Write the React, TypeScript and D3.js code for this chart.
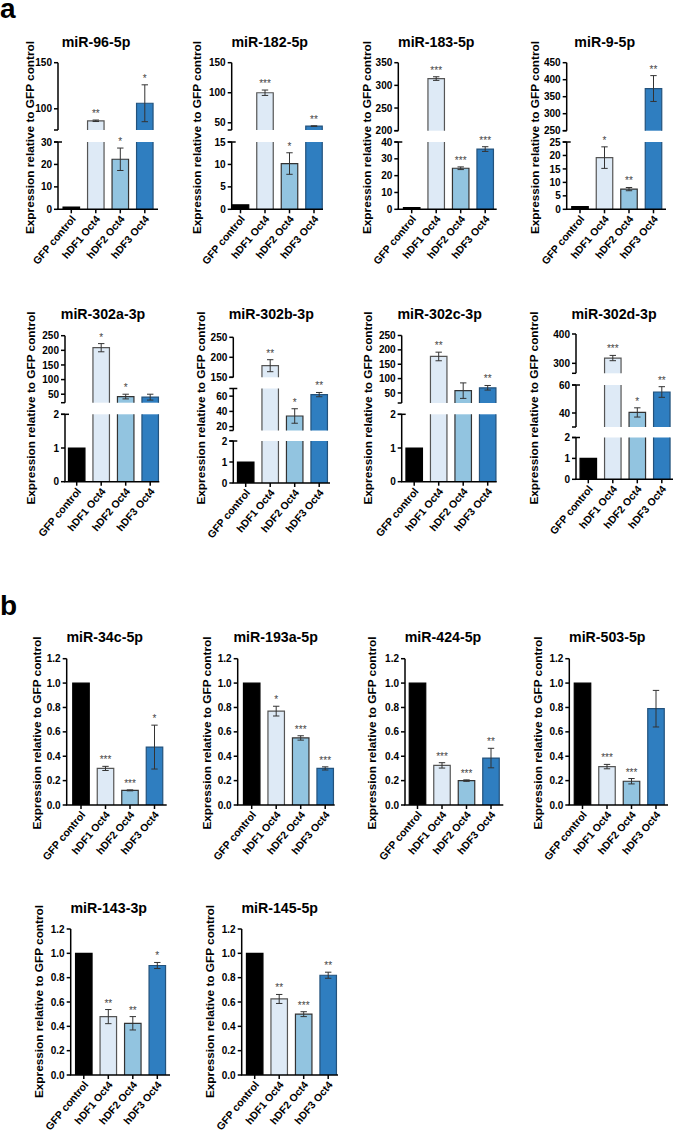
import React from "react";
import * as d3 from "d3";

const groups = ["GFP control", "hDF1 Oct4", "hDF2 Oct4", "hDF3 Oct4"];

const titles = [
  "miR-96-5p", "miR-182-5p", "miR-183-5p", "miR-9-5p",
  "miR-302a-3p", "miR-302b-3p", "miR-302c-3p", "miR-302d-3p",
  "miR-34c-5p", "miR-193a-5p", "miR-424-5p", "miR-503-5p",
  "miR-143-3p", "miR-145-5p",
];

// ---- panel a ----
const mir96Mean = [1, 87, 22.3, 106];
const mir96Err = [0, 0.8, 5, 20];
const mir96Sig = ["", "**", "*", "*"];
const mir96Segs = [[0, 30], [77, 150]];
const mir96Ticks = [[0, 10, 20, 30], [100, 150]];

const mir182Mean = [1, 100, 10.2, 44.5];
const mir182Err = [0, 4.5, 2.4, 0.5];
const mir182Sig = ["", "***", "*", "**"];
const mir182Segs = [[0, 15], [38, 150]];
const mir182Ticks = [[0, 5, 10, 15], [50, 100, 150]];

const mir183Mean = [1, 315, 24.4, 35.8];
const mir183Err = [0, 4, 0.8, 1.4];
const mir183Sig = ["", "***", "***", "***"];
const mir183Segs = [[0, 40], [200, 350]];
const mir183Ticks = [[0, 10, 20, 30, 40], [200, 250, 300, 350]];

const mir9Mean = [1, 19.2, 7.5, 374];
const mir9Err = [0, 4, 0.6, 38];
const mir9Sig = ["", "*", "**", "**"];
const mir9Segs = [[0, 25], [250, 450]];
const mir9Ticks = [[0, 5, 10, 15, 20, 25], [250, 300, 350, 400, 450]];

const mir302aMean = [1, 209, 42, 40];
const mir302aErr = [0, 14, 8, 10];
const mir302aSig = ["", "*", "*", ""];
const mir302aSegs = [[0, 2], [21, 250]];
const mir302aTicks = [[0, 1, 2], [50, 100, 150, 200, 250]];

const mir302bMean = [1, 179, 34, 62];
const mir302bErr = [0, 15, 9.5, 2.8];
const mir302bSig = ["", "**", "*", "**"];
const mir302bSegs = [[0, 2], [15, 70], [150, 250]];
const mir302bTicks = [[0, 1, 2], [20, 40, 60], [150, 200, 250]];

const mir302cMean = [1, 177, 58, 68];
const mir302cErr = [0, 15, 27, 8];
const mir302cSig = ["", "**", "", "**"];
const mir302cSegs = [[0, 2], [15, 250]];
const mir302cTicks = [[0, 1, 2], [50, 100, 150, 200, 250]];

const mir302dMean = [1, 318, 40.4, 55];
const mir302dErr = [0, 9, 3.3, 3.8];
const mir302dSig = ["", "***", "*", "**"];
const mir302dSegs = [[0, 2], [30, 60], [266, 400]];
const mir302dTicks = [[0, 1, 2], [40, 60], [300, 400]];

// ---- panel b ----
const bSegs = [[0, 1.2]];
const bTicks = [[0, 0.2, 0.4, 0.6, 0.8, 1.0, 1.2]];

const mir34cMean = [1, 0.30, 0.12, 0.475];
const mir34cErr = [0, 0.017, 0.004, 0.18];
const mir34cSig = ["", "***", "***", "*"];

const mir193aMean = [1, 0.77, 0.55, 0.30];
const mir193aErr = [0, 0.04, 0.018, 0.013];
const mir193aSig = ["", "*", "***", "***"];

const mir424Mean = [1, 0.325, 0.20, 0.385];
const mir424Err = [0, 0.022, 0.006, 0.08];
const mir424Sig = ["", "***", "***", "**"];

const mir503Mean = [1, 0.315, 0.195, 0.79];
const mir503Err = [0, 0.018, 0.022, 0.15];
const mir503Sig = ["", "***", "***", ""];

const mir143Mean = [1, 0.48, 0.425, 0.90];
const mir143Err = [0, 0.058, 0.055, 0.025];
const mir143Sig = ["", "**", "**", "*"];

const mir145Mean = [1, 0.625, 0.50, 0.82];
const mir145Err = [0, 0.037, 0.02, 0.025];
const mir145Sig = ["", "**", "***", "**"];

const charts = [
  { mean: mir96Mean, err: mir96Err, sig: mir96Sig, segs: mir96Segs, ticks: mir96Ticks, dec: false },
  { mean: mir182Mean, err: mir182Err, sig: mir182Sig, segs: mir182Segs, ticks: mir182Ticks, dec: false },
  { mean: mir183Mean, err: mir183Err, sig: mir183Sig, segs: mir183Segs, ticks: mir183Ticks, dec: false },
  { mean: mir9Mean, err: mir9Err, sig: mir9Sig, segs: mir9Segs, ticks: mir9Ticks, dec: false },
  { mean: mir302aMean, err: mir302aErr, sig: mir302aSig, segs: mir302aSegs, ticks: mir302aTicks, dec: false },
  { mean: mir302bMean, err: mir302bErr, sig: mir302bSig, segs: mir302bSegs, ticks: mir302bTicks, dec: false },
  { mean: mir302cMean, err: mir302cErr, sig: mir302cSig, segs: mir302cSegs, ticks: mir302cTicks, dec: false },
  { mean: mir302dMean, err: mir302dErr, sig: mir302dSig, segs: mir302dSegs, ticks: mir302dTicks, dec: false },
  { mean: mir34cMean, err: mir34cErr, sig: mir34cSig, segs: bSegs, ticks: bTicks, dec: true },
  { mean: mir193aMean, err: mir193aErr, sig: mir193aSig, segs: bSegs, ticks: bTicks, dec: true },
  { mean: mir424Mean, err: mir424Err, sig: mir424Sig, segs: bSegs, ticks: bTicks, dec: true },
  { mean: mir503Mean, err: mir503Err, sig: mir503Sig, segs: bSegs, ticks: bTicks, dec: true },
  { mean: mir143Mean, err: mir143Err, sig: mir143Sig, segs: bSegs, ticks: bTicks, dec: true },
  { mean: mir145Mean, err: mir145Err, sig: mir145Sig, segs: bSegs, ticks: bTicks, dec: true },
];

// ---- layout (positions only) ----
const axisXs = [58, 231.7, 398.3, 566.7, 65, 233.3, 401.7, 576, 66.7, 237.7, 405, 569.3, 70.7, 241.7];
const firstOff = [13.3, 8.8, 13.4, 13.3, 11.7, 12.4, 12.5, 12.3, 14.3, 14, 12.5, 13.2, 13.1, 13];
const endOff = [100, 91.3, 98.4, 99.3, 94.3, 96.7, 95, 97, 100, 97, 98.3, 98.7, 99.3, 96.3];
const yTitleX = [34, 201, 371, 539, 35, 205, 372, 538, 41, 211, 376, 541.5, 42.5, 213.5];
const rowOf = [0, 0, 0, 0, 1, 1, 1, 1, 2, 2, 2, 2, 3, 3];
const titleBase = [46.5, 318.5, 641.7, 913];
const yTitleCy = [137.5, 408, 733, 1001.5];
const segPx = [
  [[209.3, 142], [130, 62.7]],
  [[209.3, 142], [130, 62.7]],
  [[209.3, 142], [130.7, 62.7]],
  [[209.3, 142], [130.7, 62.7]],
  [[481.7, 414.3], [402.7, 335.7]],
  [[483, 441], [430.5, 388.5], [377.3, 337.3]],
  [[481.7, 414.3], [403, 335.5]],
  [[479.3, 437.5], [427, 385], [373.3, 334]],
  [[805, 658.7]],
  [[805, 658.7]],
  [[805, 658.7]],
  [[805, 658.7]],
  [[1075, 929]],
  [[1075, 929]],
];

const STEP = 24.5;
const BW = 16.5;
const FONT = "'Liberation Sans', Arial, Helvetica, sans-serif";
const fills = ["#000000", "#deeaf6", "#92c4e0", "#2f7ec0"];
const strokes = ["#000000", "#555555", "#333333", "#23527c"];

function Chart({ idx }: { idx: number }) {
  const c = charts[idx];
  const ax = axisXs[idx];
  const row = rowOf[idx];
  const x = d3
    .scalePoint<string>()
    .domain(groups)
    .range([ax + firstOff[idx], ax + firstOff[idx] + 3 * STEP]);
  const scales = c.segs.map((d, i) => d3.scaleLinear().domain(d).range(segPx[idx][i]));
  const y0 = scales[0](0);
  const fmt = c.dec ? d3.format(".1f") : d3.format("d");
  const nSeg = c.segs.length;

  const segOf = (v: number) => c.segs.findIndex((d) => v >= d[0] && v <= d[1]);

  return (
    <g>
      <text x={ax + 38} y={titleBase[row]} textAnchor="middle" fontSize={14.2} fontWeight="bold" fontFamily={FONT}>
        {titles[idx]}
      </text>
      <text
        transform={`translate(${yTitleX[idx]},${yTitleCy[row]}) rotate(-90)`}
        textAnchor="middle"
        fontSize={11.8}
        fontWeight="bold"
        fontFamily={FONT}
      >
        Expression relative to GFP control
      </text>
      {groups.map((g, gi) => {
        const m = c.mean[gi];
        const cx = x(g) as number;
        const xl = cx - BW / 2;
        const xr = cx + BW / 2;
        return c.segs.map((d, si) => {
          const [lo, hi] = d;
          if (m <= lo && si > 0) return null;
          const s = scales[si];
          const top = Math.min(m, hi);
          const yt = s(top);
          const yb = s(si === 0 ? 0 : lo);
          const hasTop = m <= hi;
          const path = hasTop
            ? `M${xl},${yb}L${xl},${yt}L${xr},${yt}L${xr},${yb}`
            : `M${xl},${yb}L${xl},${yt}M${xr},${yt}L${xr},${yb}`;
          return (
            <g key={`${gi}-${si}`}>
              <rect x={xl} y={yt} width={BW} height={Math.max(0, yb - yt)} fill={fills[gi]} />
              <path d={path} fill="none" stroke={strokes[gi]} strokeWidth={1.2} />
            </g>
          );
        });
      })}
      {groups.map((g, gi) => {
        const m = c.mean[gi];
        const e = c.err[gi];
        const si = segOf(m);
        if (si < 0) return null;
        const s = scales[si];
        const cx = x(g) as number;
        const yTop = s(m + e);
        const yBot = s(m - e);
        return (
          <g key={`e${gi}`}>
            {e > 0 && (
              <g stroke="#333" strokeWidth={1}>
                <line x1={cx} x2={cx} y1={yTop} y2={yBot} />
                <line x1={cx - 3.2} x2={cx + 3.2} y1={yTop} y2={yTop} />
                <line x1={cx - 3.2} x2={cx + 3.2} y1={yBot} y2={yBot} />
              </g>
            )}
            {c.sig[gi] && (
              <text
                transform={`translate(${cx},${yTop - 3}) rotate(0.01)`}
                textAnchor="middle"
                fontSize={10}
                fill="#444"
                fontFamily={FONT}
              >
                {c.sig[gi]}
              </text>
            )}
          </g>
        );
      })}
      {c.segs.map((d, si) => {
        const s = scales[si];
        const [yb, yt] = segPx[idx][si];
        return (
          <g key={`ax${si}`}>
            <line x1={ax} x2={ax} y1={yb} y2={yt} stroke="#000" strokeWidth={1.5} />
            {c.ticks[si].map((t) => (
              <g key={t}>
                <line x1={ax - 4} x2={ax} y1={s(t)} y2={s(t)} stroke="#000" strokeWidth={1.5} />
                <text x={ax - 6} y={s(t)} dy="0.36em" textAnchor="end" fontSize={10} fontWeight="bold" fontFamily={FONT}>
                  {fmt(t)}
                </text>
              </g>
            ))}
            {si > 0 && <line x1={ax - 4} x2={ax} y1={yb} y2={yb} stroke="#000" strokeWidth={1.5} />}
            {si < nSeg - 1 && <line x1={ax - 4} x2={ax + 4} y1={yt} y2={yt} stroke="#000" strokeWidth={1.5} />}
          </g>
        );
      })}
      <line x1={ax - 0.75} x2={ax + endOff[idx]} y1={y0} y2={y0} stroke="#000" strokeWidth={1.5} />
      {groups.map((g) => {
        const cx = x(g) as number;
        return (
          <g key={`xt${g}`}>
            <line x1={cx} x2={cx} y1={y0} y2={y0 + 4} stroke="#000" strokeWidth={1.5} />
            <text
              transform={`translate(${cx + 5},${y0 + 10}) rotate(-50)`}
              textAnchor="end"
              fontSize={10.5}
              fontWeight="bold"
              fontFamily={FONT}
            >
              {g}
            </text>
          </g>
        );
      })}
    </g>
  );
}

export default function App() {
  return (
    <svg
      width={676}
      height={1148}
      viewBox="0 0 676 1148"
      style={{ position: "absolute", left: 0, top: 0, background: "#fff" }}
    >
      <rect width={676} height={1148} fill="#fff" />
      <text x={0} y={17.5} fontSize={28} fontWeight="bold" fontFamily={FONT}>a</text>
      <text x={0} y={615} fontSize={28} fontWeight="bold" fontFamily={FONT}>b</text>
      {charts.map((_, i) => (
        <Chart key={i} idx={i} />
      ))}
    </svg>
  );
}
